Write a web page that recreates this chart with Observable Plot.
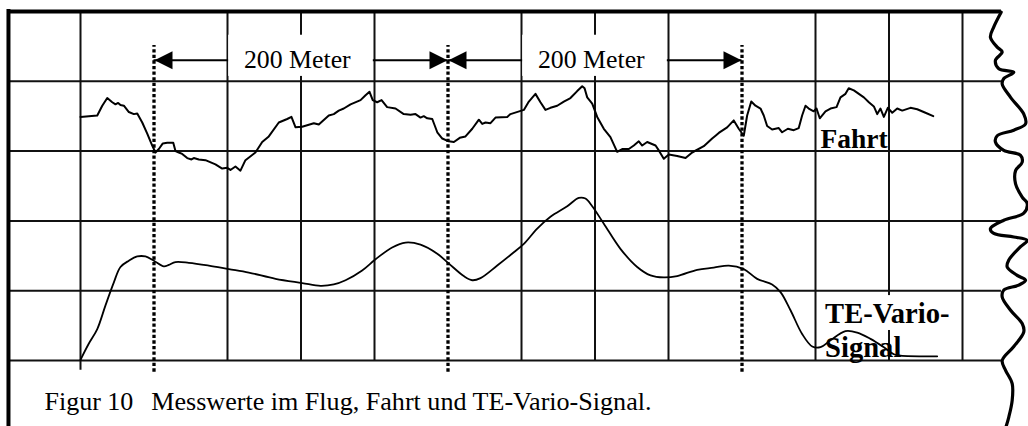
<!DOCTYPE html>
<html><head><meta charset="utf-8">
<script src="https://cdn.jsdelivr.net/npm/d3@7"></script>
<script src="https://cdn.jsdelivr.net/npm/@observablehq/plot@0.6"></script>
<style>
html,body{margin:0;padding:0;background:#fff;}
#chart{width:1028px;height:426px;overflow:hidden;}
</style></head><body><div id="chart"></div>
<script>
// Distance along the flight (m) and recorded level (grid units, 0 = bottom grid line)
const fahrtDist = [0,11.4,14.8,18.2,21.6,23.8,25.6,27.2,29.5,32.9,36.3,38.6,42.0,45.4,48.8,51.0,53.3,56.0,59.0,63.1,64.6,66.9,69.2,72.6,75.5,77.1,80.5,85.0,91.8,96.4,99.8,102.0,105.4,108.8,112.2,119.0,123.6,128.1,134.9,140.6,143.5,146.3,150.8,158.7,162.1,168.9,172.3,175.7,179.1,183.7,190.5,193.9,196.6,198.8,201.8,204.8,208.6,214.3,219.9,224.5,227.9,231.3,233.5,235.9,239.3,242.7,246.1,250.5,254.0,258.0,261.9,266.5,271.0,273.3,275.5,278.9,282.3,290.3,292.5,301.6,305.0,309.5,312.9,316.3,319.7,324.3,328.8,333.3,337.9,341.3,342.9,344.7,348.1,351.5,356.0,360.5,365.1,368.5,373.0,376.4,379.8,382.1,385.5,391.2,393.4,396.8,400.2,405.9,411.6,416.1,424.0,429.7,432.0,434.2,439.9,444.4,447.8,451.2,453.5,456.3,459.2,462.6,464.8,467.1,470.5,475.0,477.3,481.2,485.2,488.6,490.9,493.2,495.4,498.8,500.7,502.9,506.8,510.2,514.3,517.0,520.4,522.6,526.1,529.5,532.9,536.3,539.7,542.0,544.2,546.5,549.2,552.2,555.6,559.0,564.6,569.2,574.8,580.1];
const fahrtVal = [3.49,3.51,3.65,3.76,3.70,3.67,3.69,3.66,3.65,3.56,3.53,3.54,3.41,3.25,3.08,2.98,3.03,3.11,3.12,3.12,3.00,2.98,2.96,2.90,2.88,2.90,2.88,2.87,2.81,2.75,2.76,2.73,2.78,2.72,2.87,2.98,3.13,3.21,3.41,3.46,3.49,3.34,3.35,3.40,3.38,3.51,3.53,3.58,3.61,3.67,3.73,3.80,3.85,3.73,3.70,3.73,3.63,3.61,3.53,3.52,3.53,3.48,3.50,3.47,3.46,3.27,3.18,3.14,3.13,3.19,3.21,3.32,3.45,3.39,3.41,3.40,3.48,3.49,3.53,3.59,3.71,3.82,3.70,3.59,3.62,3.65,3.71,3.76,3.86,3.93,3.90,3.77,3.68,3.49,3.32,3.20,2.99,3.03,3.03,3.08,3.14,3.08,3.13,3.08,3.01,2.89,2.95,2.93,2.90,2.98,3.07,3.18,3.22,3.26,3.34,3.44,3.32,3.22,3.51,3.71,3.65,3.61,3.51,3.36,3.31,3.33,3.27,3.32,3.30,3.33,3.51,3.65,3.61,3.57,3.61,3.47,3.57,3.61,3.63,3.77,3.82,3.90,3.87,3.82,3.77,3.70,3.64,3.53,3.61,3.49,3.62,3.55,3.61,3.58,3.62,3.60,3.55,3.50];
const varioDist = [0,5.6,11.4,17.0,22.7,27.2,32.9,38.6,44.2,49.9,56.7,60.1,64.6,73.7,87.3,100.9,114.5,132.7,150.8,163.3,172.3,180.3,191.6,200.7,212.0,221.1,231.3,242.7,250.5,260.7,266.5,272.1,283.5,294.8,301.6,310.7,319.7,331.1,339.0,343.5,348.1,356.0,367.3,378.7,387.8,396.8,405.9,419.5,430.8,441.0,451.2,460.3,470.5,476.2,483.0,490.9,497.8,503.4,510.2,520.4,528.4,537.4,546.5,553.3,557.8,582.8];
const varioVal = [0.01,0.24,0.45,0.79,1.12,1.34,1.43,1.49,1.49,1.43,1.35,1.37,1.41,1.40,1.36,1.31,1.26,1.17,1.11,1.07,1.09,1.15,1.29,1.45,1.62,1.69,1.66,1.53,1.39,1.21,1.15,1.18,1.36,1.55,1.67,1.89,2.06,2.21,2.33,2.32,2.21,1.96,1.60,1.34,1.22,1.19,1.21,1.30,1.33,1.36,1.31,1.17,1.09,0.98,0.72,0.38,0.20,0.19,0.29,0.42,0.40,0.31,0.19,0.09,0.07,0.06];
// torn right edge of the paper strip
const edgeDist = [626.3,621.3,619.0,623.6,627.0,622.4,624.7,634.9,628.1,627.0,632.7,641.7,642.9,634.9,623.6,622.4,628.1,639.5,640.6,636.1,636.1,640.6,644.0,641.7,628.1,619.0,621.3,634.9,644.0,639.5,631.5,630.4,637.2,642.9,638.3,628.1,627.0,632.7,640.6,641.7,634.9,627.0,629.3,633.8,633.8,631.5,629.3];
const edgeVal = [4.99,4.78,4.63,4.49,4.42,4.30,4.18,4.13,4.04,3.96,3.77,3.53,3.39,3.30,3.22,3.13,3.01,2.94,2.84,2.72,2.53,2.34,2.25,2.11,2.01,1.89,1.82,1.77,1.72,1.63,1.44,1.34,1.22,1.15,1.08,1.01,0.91,0.72,0.53,0.41,0.20,0.00,-0.14,-0.33,-0.57,-0.81,-0.97];

const gridDist = [0,50,100,150,200,250,300,350,400,450,500,550,600];
const gridLevels = [0,1,2,3,4];
const markerDist = [50,250,450];
const spanLabels = ["200 Meter","200 Meter"];
const fahrtLabel = "Fahrt";
const varioLabel = "TE-Vario-\nSignal";
const captionNumber = "Figur 10";
const captionText = "Messwerte im Flug, Fahrt und TE-Vario-Signal.";

const fahrt = fahrtDist.map((x,i)=>({x, y:fahrtVal[i]}));
const vario = varioDist.map((x,i)=>({x, y:varioVal[i]}));
const edge = edgeDist.map((x,i)=>({x, y:edgeVal[i]}));
const spans = spanLabels.map((label,i)=>({from:markerDist[i], to:markerDist[i+1], label}));
const solidCols = gridDist.filter(d=>!markerDist.includes(d));

const LEFT = -49, RIGHT = 626.5, TOP = 5, ARROW_Y = 4.3;
const headRight = {draw(ctx){ctx.moveTo(-0.5,0);ctx.lineTo(-18.5,-9);ctx.lineTo(-18.5,9);ctx.closePath();}};
const headLeft = {draw(ctx){ctx.moveTo(0.5,0);ctx.lineTo(18.5,-9);ctx.lineTo(18.5,9);ctx.closePath();}};
const serif = "'Liberation Serif','Times New Roman',serif";
const ink = "#111";

const chart = Plot.plot({
  width: 1028, height: 426,
  marginTop: 0, marginRight: 0, marginBottom: 0, marginLeft: 0,
  x: {domain: [-50, 600], range: [6.5, 962], axis: null},
  y: {domain: [0, 5], range: [360, 11], axis: null},
  style: {fontFamily: serif, background: "#fff", color: "#000"},
  marks: [
    Plot.ruleY(gridLevels, {y: d=>d, x1: ()=>LEFT, x2: ()=>RIGHT, stroke: ink, strokeWidth: 2}),
    Plot.ruleX(solidCols, {x: d=>d, y1: d=> d===0 ? -0.14 : 0, y2: ()=>TOP, stroke: ink, strokeWidth: 2}),
    Plot.ruleX(markerDist, {x: d=>d, y1: ()=>-0.167, y2: ()=>4.513, stroke: "#000", strokeWidth: 3.3, strokeDasharray: "3.3,2.3"}),
    Plot.ruleY(spans, {y: ()=>ARROW_Y, x1: "from", x2: "to", stroke: "#000", strokeWidth: 2}),
    Plot.dot(spans, {x: "from", y: ()=>ARROW_Y, symbol: headLeft, r: 5, fill: "#000", stroke: "none"}),
    Plot.dot(spans, {x: "to", y: ()=>ARROW_Y, symbol: headRight, r: 5, fill: "#000", stroke: "none"}),
    Plot.rect(spans, {x1: d=>d.from+50.8, x2: d=>d.to-50.8, y1: ()=>4.07, y2: ()=>4.66, fill: "#fff"}),
    Plot.text(spans, {x: d=>(d.from+d.to)/2-2.5, y: ()=>4.188, text: "label", lineAnchor: "bottom", fontSize: 25.8, fill: "#000"}),
    Plot.rect([varioLabel], {x1: ()=>505, x2: ()=>595, y1: ()=>0.43, y2: ()=>0.93, fill: "#fff"}),
    Plot.text([fahrtLabel], {x: ()=>503.4, y: ()=>3.044, text: d=>d, textAnchor: "start", lineAnchor: "bottom", fontSize: 27.5, fontWeight: "bold", fill: "#000"}),
    Plot.text([varioLabel], {x: ()=>506.5, y: ()=>0.057, text: d=>d, textAnchor: "start", lineAnchor: "bottom", lineHeight: 1.17, fontSize: 28.6, fontWeight: "bold", fill: "#000"}),
    Plot.text([captionNumber], {x: ()=>-24.5, y: ()=>-0.706, text: d=>d, textAnchor: "start", lineAnchor: "bottom", fontSize: 26, fill: "#000"}),
    Plot.text([captionText], {x: ()=>48.1, y: ()=>-0.706, text: d=>d, textAnchor: "start", lineAnchor: "bottom", fontSize: 26.1, fill: "#000"}),
    Plot.line(fahrt, {x: "x", y: "y", stroke: "#000", strokeWidth: 2}),
    Plot.line(vario, {x: "x", y: "y", curve: "catmull-rom", stroke: "#000", strokeWidth: 1.8}),
    Plot.line(edge, {x: "x", y: "y", curve: "catmull-rom", stroke: "#000", strokeWidth: 3.2}),
    Plot.ruleY([TOP], {y: d=>d, x1: ()=>LEFT, x2: ()=>RIGHT, stroke: "#000", strokeWidth: 4}),
    Plot.ruleX([LEFT], {x: d=>d, y1: ()=>-1, y2: ()=>5.03, stroke: "#000", strokeWidth: 4})
  ]
});
document.getElementById("chart").appendChild(chart);
</script></body></html>
